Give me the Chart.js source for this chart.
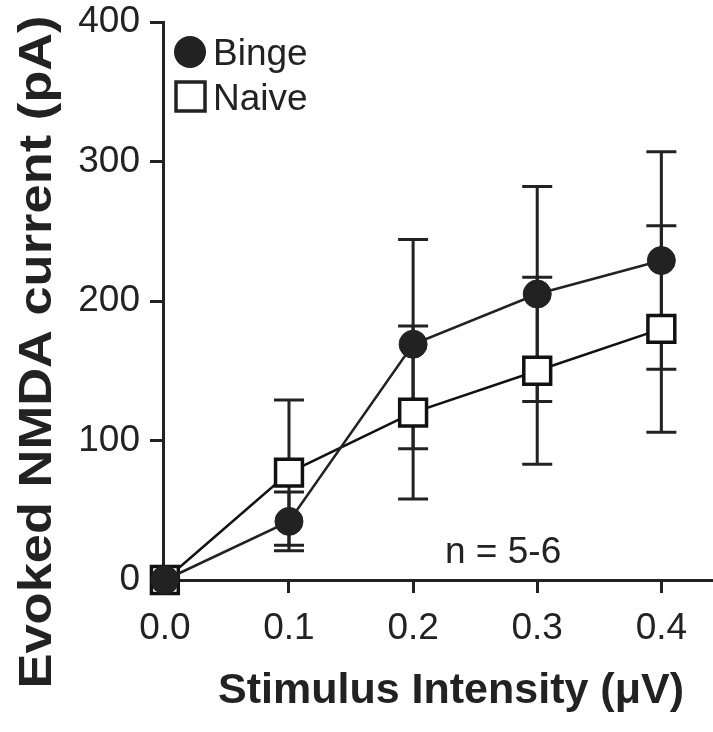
<!DOCTYPE html>
<html>
<head>
<meta charset="utf-8">
<script src="https://cdn.jsdelivr.net/npm/chart.js@4.4.1/dist/chart.umd.min.js"></script>
<style>
body { margin: 0; background: #fff; }
#holder { width: 713px; height: 732px; position: relative; }
</style>
</head>
<body>
<div id="holder"><canvas id="nmda"></canvas></div>
<script>
// stimulus intensity (uV)
var stim = [0.0, 0.1, 0.2, 0.3, 0.4];
var xTicks = [0.0, 0.1, 0.2, 0.3, 0.4];
var yTicks = [0, 100, 200, 300, 400];

// evoked NMDA current (pA), mean and SEM
var binge = [0, 42, 169, 205, 229];
var bingeErr = [0, 21, 75, 77, 78];
var naive = [0, 77, 120, 150, 180];
var naiveErr = [0, 52, 62, 67, 74];

var ink = "#222222";
var fam = "'Liberation Sans', Arial, sans-serif";

function pts(ys)
{
	var out = [];
	for (var i = 0; i < stim.length; i++)
	{
		out.push({x: stim[i], y: ys[i]});
	}
	return out;
}

var errBars = {
	id: "errBars",
	beforeDatasetsDraw: function(chart)
	{
		var ctx = chart.ctx;
		var xs = chart.scales.x, ys = chart.scales.y;
		ctx.save();
		ctx.strokeStyle = ink;
		ctx.lineWidth = 3;
		chart.data.datasets.forEach(function(ds)
		{
			for (var i = 0; i < ds.data.length; i++)
			{
				var e = ds.err[i];
				if (!e) continue;
				var px = xs.getPixelForValue(ds.data[i].x);
				var top = ys.getPixelForValue(ds.data[i].y + e);
				var bot = ys.getPixelForValue(ds.data[i].y - e);
				ctx.beginPath();
				ctx.moveTo(px, top); ctx.lineTo(px, bot);
				ctx.moveTo(px - 15, top); ctx.lineTo(px + 15, top);
				ctx.moveTo(px - 15, bot); ctx.lineTo(px + 15, bot);
				ctx.stroke();
			}
		});
		ctx.restore();
	}
};

var extras = {
	id: "extras",
	afterDraw: function(chart)
	{
		var ctx = chart.ctx;
		ctx.save();
		ctx.fillStyle = ink;
		ctx.strokeStyle = ink;

		// legend
		ctx.beginPath();
		ctx.arc(190, 52, 16, 0, Math.PI * 2);
		ctx.fill();
		ctx.lineWidth = 3.5;
		ctx.strokeRect(176, 82, 29, 29);
		ctx.font = "37px " + fam;
		ctx.textBaseline = "alphabetic";
		ctx.textAlign = "left";
		ctx.fillText("Binge", 213, 65);
		ctx.fillText("Naive", 213, 110);

		// n label
		ctx.fillText("n = 5-6", 445, 563);

		// x title
		ctx.font = "bold 43px " + fam;
		ctx.textAlign = "center";
		ctx.fillText("Stimulus Intensity (\u03bcV)", 451, 703);

		// y title, stretched along its length like the original
		ctx.translate(51, 352);
		ctx.rotate(-Math.PI / 2);
		ctx.scale(1.14, 1);
		ctx.font = "bold 46px " + fam;
		ctx.fillText("Evoked NMDA current (pA)", 0, 0);
		ctx.restore();
	}
};

new Chart("nmda", {
	type: "line",
	data: {
		datasets: [
		{
			label: "Binge",
			data: pts(binge),
			err: bingeErr,
			borderColor: ink,
			borderWidth: 2.5,
			pointStyle: "circle",
			pointRadius: 14,
			pointBackgroundColor: ink,
			pointBorderColor: ink,
			pointBorderWidth: 1,
			clip: false
		},
		{
			label: "Naive",
			data: pts(naive),
			err: naiveErr,
			borderColor: "#111",
			borderWidth: 2.5,
			pointStyle: "rect",
			pointRadius: 19,
			pointBackgroundColor: "#fff",
			pointBorderColor: "#111",
			pointBorderWidth: 3.5,
			clip: false
		}]
	},
	options: {
		responsive: true,
		maintainAspectRatio: false,
		animation: false,
		events: [],
		layout: { autoPadding: false, padding: { top: 22, right: 2, left: 0, bottom: 0 } },
		plugins: { legend: { display: false }, tooltip: { enabled: false } },
		scales: {
			x: {
				type: "linear",
				min: -0.0015,
				max: 0.44,
				afterBuildTicks: function(s) { s.ticks = xTicks.map(function(v) { return {value: v}; }); },
				afterFit: function(s) { s.height = 152; s.paddingLeft = 0; s.paddingRight = 0; },
				ticks: {
					color: ink,
					font: { family: fam, size: 37 },
					padding: 14,
					maxRotation: 0,
					callback: function(v) { return v.toFixed(1); }
				},
				grid: { drawOnChartArea: false, tickLength: 13, lineWidth: 3, color: ink },
				border: { color: ink, width: 3 }
			},
			y: {
				min: 0,
				max: 400,
				afterBuildTicks: function(s) { s.ticks = yTicks.map(function(v) { return {value: v}; }); },
				afterFit: function(s) { s.width = 163; s.paddingTop = 0; s.paddingBottom = 0; },
				ticks: {
					color: ink,
					font: { family: fam, size: 37 },
					padding: 10
				},
				grid: { drawOnChartArea: false, tickLength: 13, lineWidth: 3, color: ink },
				border: { color: ink, width: 3 }
			}
		}
	},
	plugins: [errBars, extras]
});
</script>
</body>
</html>
